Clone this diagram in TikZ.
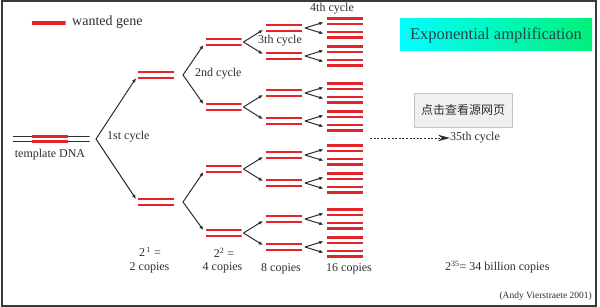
\documentclass[tikz,border=0pt]{standalone}
\usepackage{fontspec}
\setmainfont{Liberation Serif}
\newfontfamily\cjkfont{Noto Sans CJK SC}
\usepackage{xcolor}
\usetikzlibrary{arrows.meta,positioning,calc}
\definecolor{genered}{HTML}{E2252B}
\definecolor{inkgray}{HTML}{2E2E2E}
\definecolor{framegray}{HTML}{3A3A3A}
\definecolor{tealtext}{HTML}{1F4848}
\definecolor{aqua}{HTML}{00FFFF}
\definecolor{aquagreen}{HTML}{00F07A}
\definecolor{btnfill}{HTML}{F0F0F0}
\definecolor{btnline}{HTML}{C4C4C4}
\tikzset{
  gene/.style={minimum width=36pt, minimum height=8.5pt, inner sep=0pt, outer sep=0pt,
               path picture={
                 \draw[genered, line width=2.5pt]
                   ([yshift=2.8pt]path picture bounding box.west) -- ([yshift=2.8pt]path picture bounding box.east)
                   ([yshift=-2.8pt]path picture bounding box.west) -- ([yshift=-2.8pt]path picture bounding box.east);}},
  keygene/.style={minimum width=34pt, minimum height=5pt, inner sep=0pt, outer sep=0pt,
               path picture={
                 \draw[genered, line width=1.5pt]
                   ([yshift=1.1pt]path picture bounding box.west) -- ([yshift=1.1pt]path picture bounding box.east)
                   ([yshift=-1.1pt]path picture bounding box.west) -- ([yshift=-1.1pt]path picture bounding box.east);}},
  dna/.style={minimum width=77pt, minimum height=9pt, inner sep=0pt, outer sep=0pt,
               path picture={
                 \draw[inkgray, line width=1.1pt]
                   ([yshift=2.8pt]path picture bounding box.west) -- ([yshift=2.8pt]path picture bounding box.east)
                   ([yshift=-2.8pt]path picture bounding box.west) -- ([yshift=-2.8pt]path picture bounding box.east);
                 \draw[genered, line width=2.7pt]
                   ([shift={(-19pt,2.8pt)}]path picture bounding box.center) -- ([shift={(17pt,2.8pt)}]path picture bounding box.center)
                   ([shift={(-19pt,-2.8pt)}]path picture bounding box.center) -- ([shift={(17pt,-2.8pt)}]path picture bounding box.center);}},
  fork/.style={-{Latex[length=4.5pt,width=3.6pt]}, line width=1pt, draw=inkgray, shorten >=3.5pt},
  dotarr/.style={-{Stealth[length=12pt,width=6.5pt]}, line width=.8pt, draw=inkgray,
                 dash pattern=on 2pt off 1.6pt},
  lbl/.style={font=\fontsize{12}{14}\selectfont, text=inkgray, inner sep=0pt},
  titlebox/.style={minimum width=192pt, minimum height=32pt, inner sep=0pt,
                   left color=aqua, middle color=aqua, right color=aquagreen,
                   font=\fontsize{16.5}{19}\selectfont, text=tealtext},
  button/.style={draw=btnline, fill=btnfill, line width=.8pt, minimum width=98pt,
                 minimum height=34pt, inner sep=0pt, font=\cjkfont\fontsize{12}{14}\selectfont,
                 text=inkgray}
}
\begin{document}
\begin{tikzpicture}[x=1pt, y=-1pt]
  \useasboundingbox (0,0) rectangle (600,307);
  \draw[framegray, line width=2pt] (2,1) rectangle (596,305.5);

  \node[keygene] (key) at (48.5,23) {};
  \node[lbl, font=\fontsize{14}{16}\selectfont, anchor=west] (keytxt) at (72,22) {wanted gene};

  \node[dna] (tmpl) at (51,139) {};
  \node[lbl] (tmpltxt) at (50,155) {template DNA};
  \coordinate (f0) at ($(tmpl.east)+(6.5,0)$);

  \foreach \i/\y in {1/75,2/202}
    \node[gene] (l1-\i) at (156,\y) {};
  \foreach \i/\y in {1/42,2/107,3/169,4/233}
    \node[gene] (l2-\i) at (223.5,\y) {};
  \foreach \i/\y in {1/28,2/56,3/93,4/121,5/155,6/183,7/219,8/247} {
    \node[gene] (l3-\i) at (284,\y) {};
    \node[gene] (l4a-\i) at (345,\y-6.75) {};
    \node[gene] (l4b-\i) at (345,\y+6.75) {};
    \coordinate (f3-\i) at ($(l3-\i.east)+(3,0)$);
    \draw[fork] (f3-\i) -- (l4a-\i.west);
    \draw[fork] (f3-\i) -- (l4b-\i.west);
  }

  \draw[fork] (f0) -- (l1-1.west);
  \draw[fork] (f0) -- (l1-2.west);
  \foreach \p/\a/\b in {1/1/2,2/3/4} {
    \coordinate (f1-\p) at ($(l1-\p.east)+(9,0)$);
    \draw[fork] (f1-\p) -- (l2-\a.west);
    \draw[fork] (f1-\p) -- (l2-\b.west);
  }
  \foreach \p/\a/\b in {1/1/2,2/3/4,3/5/6,4/7/8} {
    \coordinate (f2-\p) at ($(l2-\p.east)+(2,0)$);
    \draw[fork] (f2-\p) -- (l3-\a.west);
    \draw[fork] (f2-\p) -- (l3-\b.west);
  }

  \node[lbl, anchor=west] (c1) at (107,137) {1st cycle};
  \node[lbl, anchor=west] (c2) at (195,74) {2nd cycle};
  \node[lbl, anchor=west] (c3) at (258,41) {3th cycle};
  \node[lbl, anchor=west] (c4) at (310,8.5) {4th cycle};

  \node[lbl, anchor=base] (pow1) at (150,257) {2\textsuperscript{\,1} =};
  \node[lbl, anchor=base] (cnt2) at (149.5,271) {2 copies};
  \node[lbl, anchor=base] (pow2) at (224,258) {2\textsuperscript{2} =};
  \node[lbl, anchor=base] (cnt4) at (222.5,271) {4 copies};
  \node[lbl, anchor=base] (cnt8) at (281,271.5) {8 copies};
  \node[lbl, anchor=base] (cnt16) at (349,271.5) {16 copies};
  \node[lbl, anchor=base west] (cnt35) at (445,271) {2\textsuperscript{35}= 34 billion copies};

  \node[titlebox] (title) at (496,35) {Exponential amplification};
  \node[button] (src) at (463,110) {点击查看源网页};

  \coordinate (dots) at (370,138);
  \node[lbl, anchor=west] (c35) at (450,138) {35th cycle};
  \draw[dotarr] (dots) -- (c35.west);

  \node[lbl, font=\fontsize{9.5}{11}\selectfont, anchor=east] (credit) at (592,296)
       {(Andy Vierstraete 2001)};
\end{tikzpicture}
\end{document}
